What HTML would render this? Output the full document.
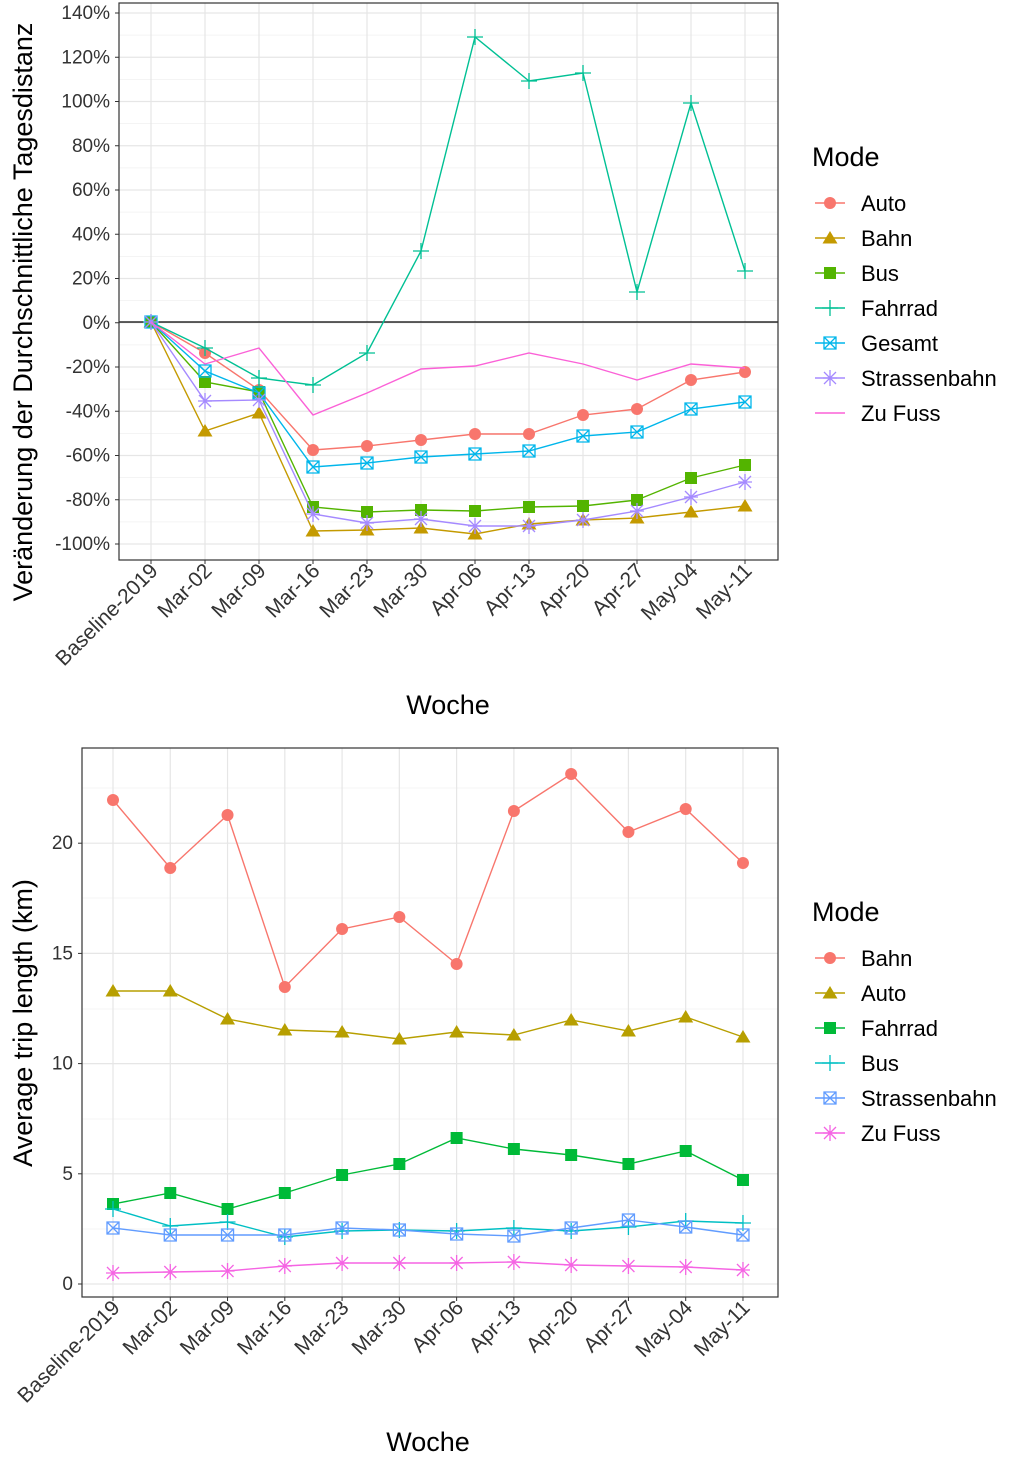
<!DOCTYPE html>
<html><head><meta charset="utf-8"><style>
body{margin:0;background:#fff}
svg{display:block;font-family:"Liberation Sans",Arial,sans-serif}
</style></head><body>
<svg id="s" width="1024" height="1463" xmlns="http://www.w3.org/2000/svg"></svg>
<script>
const s=document.getElementById('s');let h='';
const cats=['Baseline-2019','Mar-02','Mar-09','Mar-16','Mar-23','Mar-30','Apr-06','Apr-13','Apr-20','Apr-27','May-04','May-11'];
function marker(t,x,y,c){
 if(t=='o')return `<circle cx="${x}" cy="${y}" r="6" fill="${c}"/>`;
 if(t=='^')return `<polygon points="${x},${y-7} ${x-7.5},${y+5.5} ${x+7.5},${y+5.5}" fill="${c}"/>`;
 if(t=='s')return `<rect x="${x-6}" y="${y-6}" width="12" height="12" fill="${c}"/>`;
 if(t=='+')return `<path d="M${x-8},${y}H${x+8}M${x},${y-8}V${y+8}" stroke="${c}" stroke-width="1.3" fill="none"/>`;
 if(t=='b')return `<path d="M${x-6},${y-6}h12v12h-12zM${x-6},${y-6}L${x+6},${y+6}M${x+6},${y-6}L${x-6},${y+6}" stroke="${c}" stroke-width="1.3" fill="none"/>`;
 if(t=='*')return `<path d="M${x-7},${y}H${x+7}M${x-6},${y-6}L${x+6},${y+6}M${x+6},${y-6}L${x-6},${y+6}M${x},${y-8}V${y+8}" stroke="${c}" stroke-width="1.3" fill="none"/>`;
 return '';
}
function panel(o){
 const {x0,x1,y0,y1,xs,step,yt}=o;
 h+=`<rect x="${x0}" y="${y0}" width="${x1-x0}" height="${y1-y0}" fill="#fff"/>`;
 o.minor.forEach(y=>h+=`<line x1="${x0}" x2="${x1}" y1="${y}" y2="${y}" stroke="#F0F0F0" stroke-width="0.8"/>`);
 yt.forEach(([y,l])=>{h+=`<line x1="${x0}" x2="${x1}" y1="${y}" y2="${y}" stroke="#E6E6E6" stroke-width="1.2"/>`;
  h+=`<line x1="${x0-4}" x2="${x0}" y1="${y}" y2="${y}" stroke="#333"/>`;
  h+=`<text x="${x0-9}" y="${y+6}" font-size="19" fill="#333" text-anchor="end">${l}</text>`;});
 cats.forEach((c,i)=>{const x=xs+i*step;
  h+=`<line x1="${x}" x2="${x}" y1="${y0}" y2="${y1}" stroke="#E6E6E6" stroke-width="1.2"/>`;
  h+=`<line x1="${x}" x2="${x}" y1="${y1}" y2="${y1+4}" stroke="#333"/>`;
  h+=`<text transform="translate(${x+8},${y1+12}) rotate(-45)" font-size="21" fill="#333" text-anchor="end">${c}</text>`;});
 if(o.zero)h+=`<line x1="${x0}" x2="${x1}" y1="${o.zero}" y2="${o.zero}" stroke="#000" stroke-width="1.3"/>`;
 o.series.forEach(([n,c,t,d])=>{
  h+=`<polyline points="${d.map((y,i)=>(xs+i*step)+','+y).join(' ')}" fill="none" stroke="${c}" stroke-width="1.4"/>`;
  d.forEach((y,i)=>h+=marker(t,xs+i*step,y,c));});
 h+=`<rect x="${x0}" y="${y0}" width="${x1-x0}" height="${y1-y0}" fill="none" stroke="#333" stroke-width="1.2"/>`;
 h+=`<text x="812" y="${o.ly}" font-size="27" fill="#000">Mode</text>`;
 o.series.forEach(([n,c,t],i)=>{const y=o.ly+37+i*35;
  h+=`<line x1="815" x2="845" y1="${y}" y2="${y}" stroke="${c}" stroke-width="1.4"/>`+marker(t,830,y,c);
  h+=`<text x="861" y="${y+8}" font-size="22" fill="#000">${n}</text>`;});
 h+=`<text x="${o.xtx}" y="${o.xty}" font-size="27" text-anchor="middle" fill="#000">Woche</text>`;
 h+=`<text transform="translate(${o.ytx},${o.yty}) rotate(-90)" font-size="27" text-anchor="middle" fill="#000">${o.ylab}</text>`;
}
let yt=[],mn=[];
for(let k=0;k<=12;k++){const y=13+k*44.25;yt.push([y,(140-20*k)+'%']);if(k<12)mn.push(y+22.1);}
panel({x0:119,x1:778,y0:3,y1:560,xs:151,step:54,yt,minor:mn,zero:322,ly:166,xtx:448,xty:714,ytx:32,yty:312,
ylab:'Veränderung der Durchschnittliche Tagesdistanz',
series:[
['Auto','#F8766D','o',[322,353,390,450,446,440,434,434,415,409,380,372]],
['Bahn','#C49A00','^',[322,431,413,531,530,528,534,524,520,518,512,506]],
['Bus','#53B400','s',[322,382,392,507,512,510,511,507,506,500,478,465]],
['Fahrrad','#00C094','+',[322,348,378,385,353,251,37,81,73,292,103,271]],
['Gesamt','#00B6EB','b',[322,371,393,467,463,457,454,451,436,432,409,402]],
['Strassenbahn','#A58AFF','*',[322,401,400,514,523,519,526,526,520,511,497,482]],
['Zu Fuss','#FB61D7','',[322,364,348,415,393,369,366,353,364,380,364,368]]]});
yt=[];mn=[];
for(let k=0;k<=4;k++){yt.push([1284-k*110.2,String(k*5)]);}
[1229,1119,1009,898,788].forEach(y=>mn.push(y));
panel({x0:82,x1:778,y0:748,y1:1297,xs:113,step:57.27,yt,minor:mn,ly:921,xtx:428,xty:1451,ytx:32,yty:1023,
ylab:'Average trip length (km)',
series:[
['Bahn','#F8766D','o',[800,868,815,987,929,917,964,811,774,832,809,863]],
['Auto','#B79F00','^',[991,991,1019,1030,1032,1039,1032,1035,1020,1031,1017,1037]],
['Fahrrad','#00BA38','s',[1204,1193,1209,1193,1175,1164,1138,1149,1155,1164,1151,1180]],
['Bus','#00BFC4','+',[1209,1226,1222,1237,1231,1230,1231,1228,1231,1227,1221,1223]],
['Strassenbahn','#619CFF','b',[1228,1235,1235,1235,1228,1230,1234,1236,1228,1220,1227,1235]],
['Zu Fuss','#F564E3','*',[1273,1272,1271,1266,1263,1263,1263,1262,1265,1266,1267,1270]]]});
s.innerHTML=h;
</script>
</body></html>
